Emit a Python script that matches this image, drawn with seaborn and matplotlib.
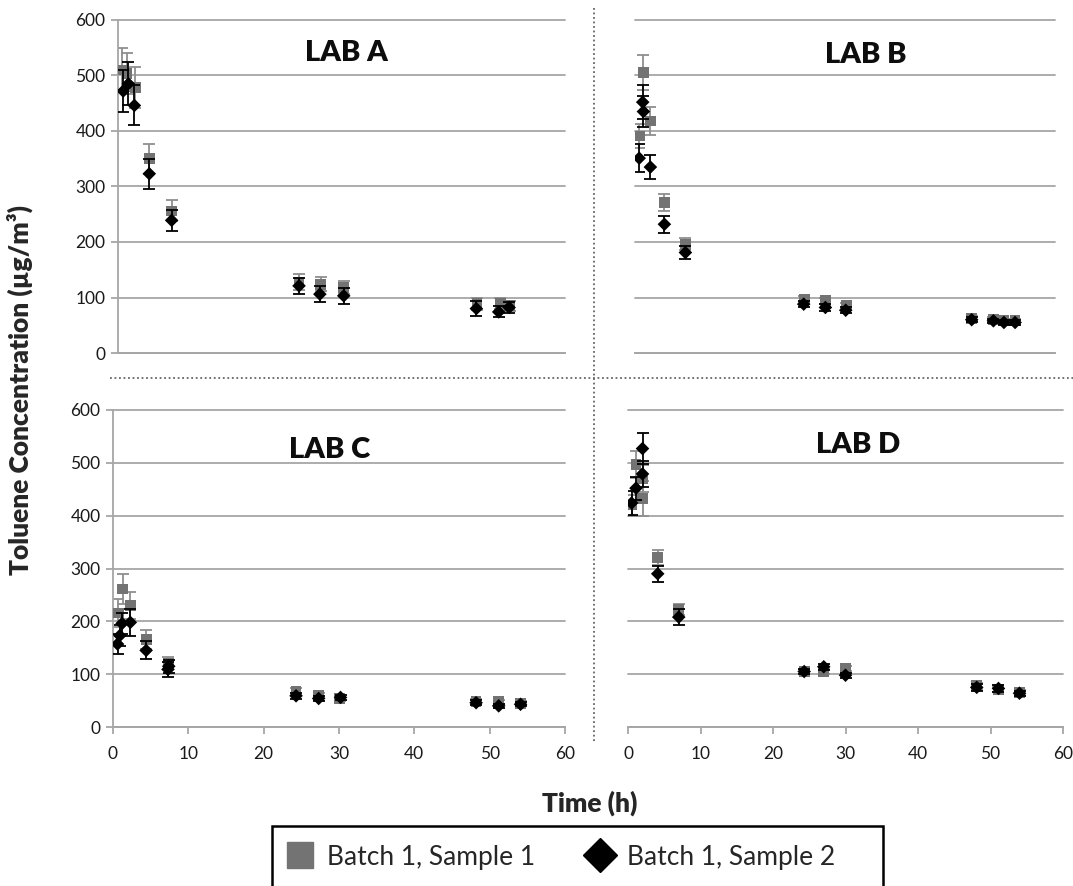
import matplotlib
matplotlib.use("Agg")
import matplotlib.pyplot as plt
from matplotlib.lines import Line2D
from matplotlib.patches import Rectangle
import seaborn as sns

# ---- data (time in h, toluene in ug/m3, +/- error) ----
# LAB A
a_t1 = [0.6, 1.2, 2.3, 4.2, 7.2, 24.3, 27.2, 30.3, 48.2, 51.3, 52.6]
a_v1 = [510, 503, 478, 350, 256, 128, 124, 118, 89, 90, 85]
a_e1 = [40, 37, 37, 27, 19, 14, 13, 12, 11, 10, 9]
a_t2 = [0.7, 1.4, 2.2, 4.2, 7.2, 24.3, 27.1, 30.3, 48.1, 51.1, 52.5]
a_v2 = [472, 485, 446, 323, 239, 121, 106, 103, 80, 74, 82]
a_e2 = [38, 39, 36, 27, 19, 15, 15, 14, 13, 10, 10]

# LAB B
b_t1 = [0.6, 1.2, 2.2, 4.2, 7.2, 24.2, 27.2, 30.2, 48.1, 51.2, 52.7, 54.3]
b_v1 = [391, 505, 418, 271, 196, 97, 94, 85, 62, 61, 58, 58]
b_e1 = [22, 32, 26, 16, 11, 6, 6, 5, 5, 4, 4, 4]
b_t2 = [0.6, 1.1, 1.2, 2.2, 4.2, 7.2, 24.1, 27.2, 30.1, 48.1, 51.2, 52.7, 54.3]
b_v2 = [351, 452, 435, 335, 232, 181, 88, 82, 77, 60, 58, 55, 55]
b_e2 = [25, 30, 28, 22, 15, 12, 6, 6, 5, 5, 4, 4, 4]

# LAB C
c_t1 = [0.7, 1.3, 2.3, 4.4, 7.35, 24.3, 27.3, 30.1, 48.2, 51.2, 54.1]
c_v1 = [216, 261, 230, 166, 121, 67, 59, 54, 48, 48, 45]
c_e1 = [26, 28, 25, 18, 11, 6, 5, 5, 5, 4, 4]
c_t2 = [0.6, 0.9, 1.2, 2.3, 4.4, 7.3, 7.4, 24.3, 27.3, 30.2, 48.2, 51.2, 54.1]
c_v2 = [157, 173, 196, 198, 145, 109, 115, 59, 54, 56, 46, 40, 43]
c_e2 = [19, 20, 20, 25, 17, 14, 12, 6, 5, 5, 5, 4, 4]

# LAB D
d_t1 = [0.5, 1.1, 2.0, 2.0, 4.1, 7.0, 24.3, 27.0, 30.0, 48.1, 51.1, 54.0]
d_v1 = [420, 497, 470, 433, 321, 222, 105, 105, 111, 78, 71, 65]
d_e1 = [20, 26, 25, 33, 14, 10, 5, 5, 5, 6, 5, 5]
d_t2 = [0.5, 1.1, 2.0, 2.0, 4.1, 7.0, 24.3, 27.0, 30.0, 48.1, 51.1, 54.0]
d_v2 = [424, 452, 479, 527, 290, 208, 105, 114, 98, 75, 73, 64]
d_e2 = [22, 22, 25, 29, 15, 15, 5, 6, 5, 6, 6, 5]

labs = ["LAB A", "LAB B", "LAB C", "LAB D"]
series = {
    "LAB A": (a_t1, a_v1, a_e1, a_t2, a_v2, a_e2),
    "LAB B": (b_t1, b_v1, b_e1, b_t2, b_v2, b_e2),
    "LAB C": (c_t1, c_v1, c_e1, c_t2, c_v2, c_e2),
    "LAB D": (d_t1, d_v1, d_e1, d_t2, d_v2, d_e2),
}
legend_labels = ["Batch 1, Sample 1", "Batch 1, Sample 2"]

# ---- style ----
sns.set_style("white")
plt.rcParams['font.family'] = ['Lato', 'DejaVu Sans']

W, H = 1073, 886
fig = plt.figure(figsize=(W / 100, H / 100), dpi=100)

# panel boxes in pixels: left, top(600), right, bottom(0)
boxes = {
    "LAB A": (118, 20, 565, 353),
    "LAB B": (635, 20, 1055, 353),
    "LAB C": (113, 410, 565, 727),
    "LAB D": (628, 410, 1063, 727),
}
title_pos = {
    "LAB A": (0.51, 0.90),
    "LAB B": (0.55, 0.895),
    "LAB C": (0.48, 0.875),
    "LAB D": (0.53, 0.89),
}

grid_col = "#a6a6a6"
gray = "#737373"

for lab in labs:
    l, t, r, b = boxes[lab]
    ax = fig.add_axes([l / W, 1 - b / H, (r - l) / W, (b - t) / H])
    t1, v1, e1, t2, v2, e2 = series[lab]

    # sample 1: gray squares
    ax.errorbar(t1, v1, yerr=e1, fmt='none', ecolor="#8f8f8f", elinewidth=1.3,
                capsize=4, capthick=1.3, zorder=2)
    sns.scatterplot(x=t1, y=v1, marker='s', color=gray, s=60, edgecolor='none',
                    ax=ax, zorder=3)
    # sample 2: black diamonds
    ax.errorbar(t2, v2, yerr=e2, fmt='none', ecolor="black", elinewidth=1.3,
                capsize=4, capthick=1.3, zorder=4)
    sns.scatterplot(x=t2, y=v2, marker='D', color="black", s=48, edgecolor='none',
                    ax=ax, zorder=5)

    ax.set_xlim(0, 60)
    ax.set_ylim(0, 600)
    ax.set_yticks(range(0, 601, 100))
    ax.set_xticks(range(0, 61, 10))
    ax.yaxis.grid(True, color=grid_col, lw=1.3)
    for gl in ax.get_ygridlines():
        gl.set_clip_on(False)
    ax.set_axisbelow(True)
    ax.set_xlabel("")
    ax.set_ylabel("")

    for s in ["top", "right"]:
        ax.spines[s].set_visible(False)
    ax.spines["bottom"].set_color(grid_col)
    ax.spines["bottom"].set_linewidth(1.3)
    ax.spines["left"].set_color(grid_col)
    ax.spines["left"].set_linewidth(1.3)

    if lab in ("LAB A", "LAB C"):
        ax.tick_params(axis='y', left=True, length=5, width=1.3, color=grid_col,
                       labelsize=12.5, labelcolor="#1a1a1a", pad=4)
    else:
        ax.spines["left"].set_visible(False)
        ax.tick_params(axis='y', left=False, labelleft=False)

    if lab in ("LAB C", "LAB D"):
        ax.tick_params(axis='x', bottom=True, length=5, width=1.3, color=grid_col,
                       labelsize=12.5, labelcolor="#1a1a1a", pad=9)
    else:
        ax.tick_params(axis='x', bottom=False, labelbottom=False)

    tx, ty = title_pos[lab]
    ax.text(tx, ty, lab, transform=ax.transAxes, fontsize=21, fontweight='heavy',
            ha='center', va='center', color="#0d0d0d")

# dotted separators
fig.add_artist(Line2D([594 / W, 594 / W], [1 - 8 / H, 1 - 742 / H],
                      ls=(0, (1, 1.5)), color="#666666", lw=1.3))
fig.add_artist(Line2D([110 / W, 1.0], [1 - 378 / H, 1 - 378 / H],
                      ls=(0, (1, 1.5)), color="#666666", lw=1.3))

# axis titles
fig.text(20 / W, 1 - 390 / H, "Toluene Concentration (µg/m³)", rotation=90,
         fontsize=19, fontweight='heavy', ha='center', va='center')
fig.text(590 / W, 1 - 803 / H, "Time (h)", fontsize=19, fontweight='heavy',
         ha='center', va='center')

# legend (box runs off the bottom edge, as in the original)
handles = [
    Line2D([], [], marker='s', color=gray, ls='none', markersize=19),
    Line2D([], [], marker='D', color="black", ls='none', markersize=17),
]
fig.legend(handles, legend_labels, loc='center left',
           bbox_to_anchor=(284 / W, 1 - 857 / H), ncol=2, frameon=False,
           fontsize=19, borderpad=0, borderaxespad=0, handletextpad=0.42,
           columnspacing=1.86, handlelength=1.2)
fig.add_artist(Rectangle((272 / W, -0.05), 611 / W, (1 - 826 / H) + 0.05,
                         fill=False, edgecolor="black", lw=1.8,
                         transform=fig.transFigure))

fig.savefig("out.png", dpi=100)
